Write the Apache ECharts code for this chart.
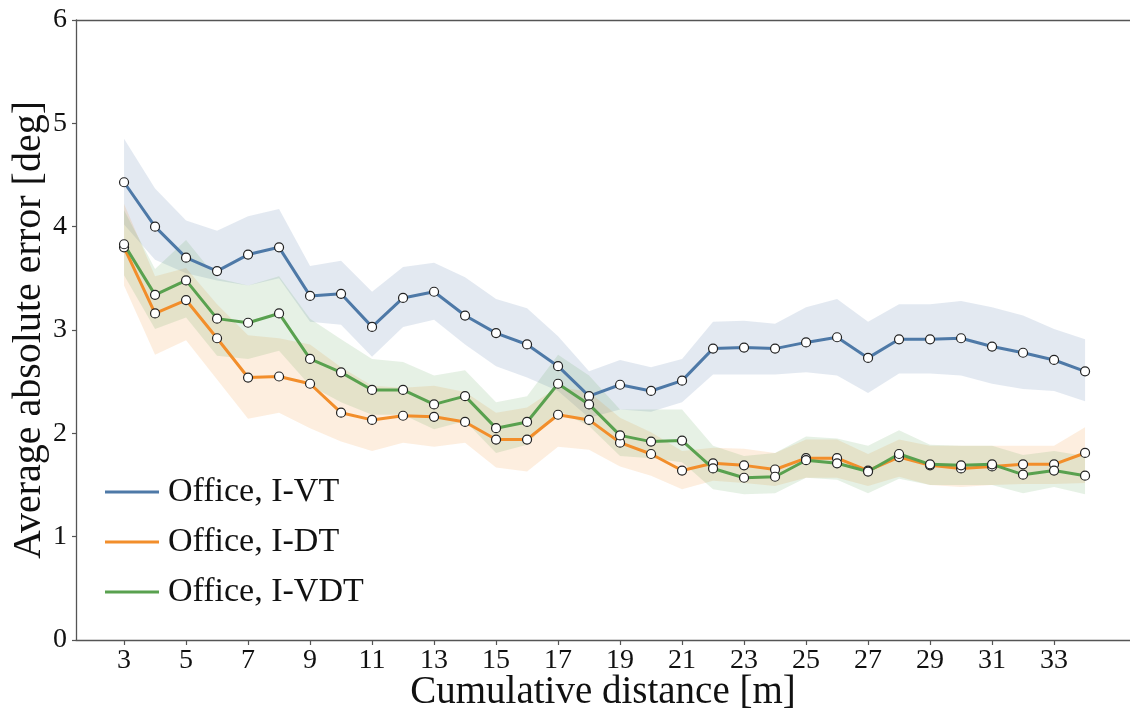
<!DOCTYPE html>
<html>
<head>
<meta charset="utf-8">
<script src="https://cdn.jsdelivr.net/npm/echarts@6/dist/echarts.min.js"></script>
<style>
html,body{margin:0;padding:0;background:#fff;}
#chart{width:1130px;height:713px;}
</style>
</head>
<body>
<div id="chart"></div>
<script>
// ---- data ----
const distances = [3,4,5,6,7,8,9,10,11,12,13,14,15,16,17,18,19,20,21,22,23,24,25,26,27,28,29,30,31,32,33,34];
const xTickLabels = [3,5,7,9,11,13,15,17,19,21,23,25,27,29,31,33];
const yTickLabels = [0,1,2,3,4,5,6];
const seriesNames = ['Office, I-VT','Office, I-DT','Office, I-VDT'];

const vtMean  = [4.43,4.00,3.70,3.57,3.73,3.80,3.33,3.35,3.03,3.31,3.37,3.14,2.97,2.86,2.65,2.36,2.47,2.41,2.51,2.82,2.83,2.82,2.88,2.93,2.73,2.91,2.91,2.92,2.84,2.78,2.71,2.60];
const vtUpper = [4.85,4.37,4.06,3.96,4.10,4.17,3.62,3.67,3.37,3.61,3.65,3.51,3.30,3.21,2.94,2.60,2.71,2.64,2.72,3.08,3.09,3.06,3.22,3.30,3.08,3.25,3.25,3.28,3.22,3.14,3.01,2.91];
const vtLower = [4.02,3.68,3.55,3.48,3.43,3.50,3.08,3.05,2.74,3.03,3.10,2.86,2.65,2.54,2.41,2.15,2.23,2.21,2.30,2.57,2.57,2.57,2.59,2.56,2.39,2.58,2.58,2.56,2.48,2.43,2.41,2.31];

const dtMean  = [3.80,3.16,3.29,2.92,2.54,2.55,2.48,2.20,2.13,2.17,2.16,2.11,1.94,1.94,2.18,2.13,1.91,1.80,1.64,1.71,1.69,1.65,1.76,1.76,1.64,1.77,1.69,1.66,1.68,1.70,1.70,1.81];
const dtUpper = [4.22,3.52,3.60,3.25,2.95,2.92,2.86,2.64,2.46,2.44,2.46,2.40,2.20,2.25,2.45,2.40,2.15,2.01,1.83,1.86,1.85,1.81,1.94,1.94,1.80,1.94,1.88,1.88,1.88,1.88,1.88,2.06];
const dtLower = [3.43,2.76,2.90,2.52,2.14,2.20,2.05,1.92,1.83,1.91,1.87,1.91,1.67,1.63,1.87,1.84,1.68,1.59,1.46,1.54,1.52,1.49,1.57,1.57,1.49,1.58,1.50,1.48,1.50,1.51,1.51,1.52];

const vdtMean  = [3.83,3.34,3.48,3.11,3.07,3.16,2.72,2.59,2.42,2.42,2.28,2.36,2.05,2.11,2.48,2.28,1.98,1.92,1.93,1.66,1.57,1.58,1.74,1.71,1.63,1.80,1.70,1.69,1.70,1.60,1.64,1.59];
const vdtUpper = [4.16,3.59,3.87,3.50,3.43,3.52,3.11,2.91,2.72,2.69,2.56,2.61,2.30,2.36,2.76,2.56,2.23,2.23,2.23,1.88,1.78,1.81,1.97,1.95,1.88,2.03,1.89,1.88,1.88,1.79,1.83,1.78];
const vdtLower = [3.53,3.01,3.12,2.75,2.72,2.80,2.46,2.30,2.18,2.18,2.04,2.12,1.81,1.89,2.22,2.07,1.78,1.76,1.72,1.46,1.41,1.42,1.57,1.55,1.42,1.56,1.50,1.50,1.50,1.42,1.48,1.41];

// ---- styling ----
const colors = ['#4e79a7','#f28e2b','#59a14f'];
const bandColors = ['rgba(78,121,167,0.16)','rgba(242,142,43,0.15)','rgba(89,161,79,0.15)'];
const FONT = '"Liberation Serif","Times New Roman",serif';

function bandSeries(upper, lower, color, idx) {
  return {
    type: 'custom',
    name: 'band' + idx,
    silent: true,
    data: [[distances[0], upper[0]]],
    renderItem: function (params, api) {
      const pts = [];
      for (let i = 0; i < distances.length; i++) pts.push(api.coord([distances[i], upper[i]]));
      for (let i = distances.length - 1; i >= 0; i--) pts.push(api.coord([distances[i], lower[i]]));
      return { type: 'polygon', shape: { points: pts }, style: { fill: color, stroke: null } };
    },
    z: 2
  };
}
function lineSeries(name, mean, color) {
  return {
    type: 'line',
    name: name,
    data: distances.map((d, i) => [d, mean[i]]),
    symbol: 'circle',
    symbolSize: 9,
    showAllSymbol: true,
    lineStyle: { color: color, width: 3 },
    itemStyle: { color: '#ffffff', borderColor: '#222', borderWidth: 1.2 },
    emphasis: { disabled: true },
    z: 2
  };
}

const chart = echarts.init(document.getElementById('chart'), null, { renderer: 'canvas' });
chart.setOption({
  animation: false,
  backgroundColor: '#ffffff',
  textStyle: { fontFamily: FONT },
  grid: { left: 76, top: 20, right: 0, bottom: 73, outerBoundsMode: 'none', containLabel: false, show: false },
  legend: {
    left: 100, top: 469, orient: 'vertical',
    itemWidth: 54, itemHeight: 3, itemGap: 14,
    icon: 'rect',
    textStyle: { fontFamily: FONT, fontSize: 34, color: '#111', lineHeight: 36, padding: [0,0,0,4] },
    data: seriesNames.map((n, i) => ({ name: n, itemStyle: { color: colors[i], borderWidth: 0, borderColor: 'transparent' } }))
  },
  xAxis: [{
    type: 'value', min: 1.45, max: 35.45, position: 'bottom',
    name: 'Cumulative distance [m]', nameLocation: 'middle', nameGap: 33, nameMoveOverlap: false,
    nameTextStyle: { fontFamily: FONT, fontSize: 39, color: '#111' },
    axisLine: { show: true, lineStyle: { color: '#555', width: 1.3 } },
    axisTick: { show: true, customValues: xTickLabels, length: 5, lineStyle: { color: '#555', width: 1.2 } },
    axisLabel: { customValues: xTickLabels, fontFamily: FONT, fontSize: 28, color: '#111', margin: 7 },
    splitLine: { show: false }
  }, {
    type: 'value', min: 1.45, max: 35.45, position: 'top',
    axisLine: { show: true, lineStyle: { color: '#555', width: 1.3 } },
    axisTick: { show: false }, axisLabel: { show: false }, splitLine: { show: false }
  }],
  yAxis: {
    type: 'value', min: 0, max: 6, interval: 1,
    name: 'Average absolute error [deg]', nameLocation: 'middle', nameGap: 27, nameMoveOverlap: false,
    nameTextStyle: { fontFamily: FONT, fontSize: 40, color: '#111' },
    axisLine: { show: true, lineStyle: { color: '#555', width: 1.3 } },
    axisTick: { show: true, length: 4, lineStyle: { color: '#555', width: 1.2 } },
    axisLabel: { fontFamily: FONT, fontSize: 28, color: '#111', margin: 9,
      formatter: v => (yTickLabels.indexOf(v) >= 0 ? String(v) : '') },
    splitLine: { show: false }
  },
  series: [
    bandSeries(vtUpper, vtLower, bandColors[0], 0),
    lineSeries(seriesNames[0], vtMean, colors[0]),
    bandSeries(dtUpper, dtLower, bandColors[1], 1),
    lineSeries(seriesNames[1], dtMean, colors[1]),
    bandSeries(vdtUpper, vdtLower, bandColors[2], 2),
    lineSeries(seriesNames[2], vdtMean, colors[2])
  ]
});
</script>
</body>
</html>
